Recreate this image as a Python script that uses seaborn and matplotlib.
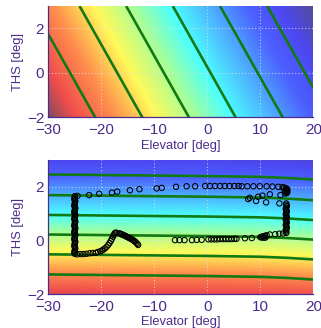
import numpy as np
import matplotlib
matplotlib.use("Agg")
import matplotlib.pyplot as plt
from matplotlib.colors import LinearSegmentedColormap
import seaborn as sns

# axis ranges and ticks
elev_range = [-30, 20]
ths_range = [-2, 3]
x_ticks = [-30, -20, -10, 0, 10, 20]
y_ticks = [-2, 0, 2]

top_ths_coef = 2.37
top_levels = [-25.9, -17.0, -8.2, 0.6, 9.5, 18.4]

# bottom panel: field = THS + small elevator dependent offset
bot_offset_elev = [-30, -20, -10, 0, 10, 15, 20]
bot_offset_val = [-0.06, -0.04, -0.02, 0.0, 0.03, 0.07, 0.13]
bot_levels = [-1.33, -0.58, 0.16, 0.89, 1.63, 2.40]

# measured trajectory (elevator, THS)
left_up_elev = [-25.0, -25.0, -25.1, -25.0, -24.9, -25.0, -25.0, -25.1, -25.0, -24.9,
                -25.0, -25.0, -25.1, -25.0, -24.9, -25.0, -25.0, -25.1, -25.0, -24.9,
                -25.0, -25.0, -25.1, -25.0, -24.9, -25.0, -25.0, -25.1, -25.0, -24.9,
                -25.0, -25.0, -25.1, -25.0, -24.9, -25.0, -25.0, -25.1, -25.0, -24.9,
                -25.0, -25.0, -25.1, -25.0]
left_up_ths = [1.65, 1.60, 1.55, 1.50, 1.45, 1.40, 1.35, 1.30, 1.25, 1.20,
               1.15, 1.10, 1.05, 1.00, 0.95, 0.90, 0.85, 0.80, 0.75, 0.70,
               0.65, 0.60, 0.55, 0.50, 0.45, 0.40, 0.35, 0.30, 0.25, 0.20,
               0.15, 0.10, 0.05, 0.00, -0.05, -0.10, -0.15, -0.20, -0.25, -0.30,
               -0.35, -0.40, -0.45, -0.50]

low_left_elev = [-24.6, -24.0, -23.4, -22.8, -22.2, -21.6, -21.0, -20.6, -20.2, -19.9,
                 -19.6, -19.3, -19.0, -18.7, -18.45, -18.2, -18.0, -17.8, -17.65, -17.5,
                 -17.3, -17.1]
low_left_ths = [-0.52, -0.51, -0.51, -0.50, -0.48, -0.47, -0.46, -0.43, -0.41, -0.38,
                -0.34, -0.30, -0.24, -0.17, -0.10, -0.02, 0.06, 0.14, 0.20, 0.26,
                0.29, 0.28]

blob_elev = [-16.6, -16.4, -16.2, -16.0, -15.8, -15.6, -15.4, -15.2, -15.0, -14.8,
             -14.6, -14.4, -14.2, -14.0, -13.8, -13.6, -13.4, -13.2, -13.05]
blob_ths = [0.26, 0.25, 0.23, 0.21, 0.20, 0.18, 0.16, 0.14, 0.12, 0.10,
            0.08, 0.06, 0.04, 0.01, -0.02, -0.05, -0.09, -0.13, -0.17]

top_row_elev = [-24.5, -22.3, -20.4, -18.0, -17.0, -14.6, -12.8, -9.55, -8.6, -5.9,
                -3.9, -2.3, -0.4, 0.5, 1.45, 2.4, 3.3, 4.2, 5.1, 5.9,
                6.5, 7.55, 8.7, 9.9, 11.2, 12.3, 13.4, 14.2,
                14.5, 14.8, 15.0, 15.1, 15.0, 14.9, 15.1, 15.0, 14.7, 14.9, 14.6]
top_row_ths = [1.66, 1.69, 1.74, 1.78, 1.82, 1.87, 1.91, 1.94, 1.96, 2.00,
               2.02, 2.02, 2.03, 2.03, 2.03, 2.03, 2.03, 2.03, 2.03, 2.03,
               2.02, 2.02, 2.02, 2.02, 2.02, 2.01, 2.00, 1.99,
               1.97, 1.95, 1.92, 1.89, 1.86, 1.83, 1.80, 1.77, 1.75, 1.90, 1.85]

cluster_elev = [7.7, 8.0, 9.2, 9.6, 10.4, 11.1, 11.8, 13.6, 13.8]
cluster_ths = [1.54, 1.59, 1.47, 1.63, 1.67, 1.42, 1.72, 1.38, 1.69]

right_down_elev = [14.9, 14.9, 15.0, 14.9, 14.8, 14.9, 15.0, 14.9, 14.8, 14.9,
                   15.0, 14.9, 14.8, 14.9, 15.0, 14.9, 14.8, 14.9, 15.0, 14.9,
                   14.8, 14.9, 14.9]
right_down_ths = [1.38, 1.33, 1.28, 1.23, 1.18, 1.13, 1.08, 1.03, 0.98, 0.93,
                  0.88, 0.83, 0.78, 0.73, 0.68, 0.63, 0.58, 0.53, 0.48, 0.43,
                  0.38, 0.33, 0.28]

low_right_elev = [14.3, 13.6, 12.8, 11.8, 11.2, 10.9, 10.5, 10.2, 10.0, 10.3,
                  10.7, 11.0, 8.4, 7.1, 5.5, 5.1, 4.6, 4.05, 3.5, 2.95,
                  2.4, 1.85, 1.3, 0.75, 0.2, -1.06, -2.0, -2.9, -4.3, -5.25,
                  -6.09]
low_right_ths = [0.26, 0.25, 0.23, 0.22, 0.19, 0.17, 0.15, 0.13, 0.12, 0.11,
                 0.10, 0.11, 0.09, 0.08, 0.06, 0.06, 0.05, 0.05, 0.05, 0.05,
                 0.05, 0.04, 0.04, 0.04, 0.04, 0.02, 0.02, 0.01, 0.01, 0.01,
                 0.01]

traj_elev = (left_up_elev + low_left_elev + blob_elev + top_row_elev
             + cluster_elev + right_down_elev + low_right_elev)
traj_ths = (left_up_ths + low_left_ths + blob_ths + top_row_ths
            + cluster_ths + right_down_ths + low_right_ths)

# colours
text_color = "#4b2b8b"
contour_color = "#127a12"
cmap = LinearSegmentedColormap.from_list("shaded_rainbow", [
    (0.00, (0.50, 0.30, 0.36)),
    (0.08, (0.94, 0.30, 0.30)),
    (0.20, (1.00, 0.55, 0.30)),
    (0.33, (1.00, 0.98, 0.35)),
    (0.45, (0.65, 1.00, 0.60)),
    (0.56, (0.30, 1.00, 1.00)),
    (0.68, (0.30, 0.70, 1.00)),
    (0.80, (0.30, 0.38, 1.00)),
    (0.90, (0.30, 0.28, 0.95)),
    (1.00, (0.32, 0.30, 0.58)),
])

sns.set_theme(style="white")
plt.rcParams["font.family"] = ["Liberation Sans", "DejaVu Sans"]

fig = plt.figure(figsize=(3.21, 3.28), dpi=100)
W, H = 321, 328
ax1 = fig.add_axes([48.3 / W, 1 - 117.3 / H, 265 / W, 111.3 / H])
ax2 = fig.add_axes([48.3 / W, 1 - 294 / H, 265 / W, 134 / H])

e = np.linspace(elev_range[0], elev_range[1], 400)
t = np.linspace(ths_range[0], ths_range[1], 300)
E, T = np.meshgrid(e, t)

F1 = E + top_ths_coef * T
F2 = T + np.interp(E, bot_offset_elev, bot_offset_val)

extent = [elev_range[0], elev_range[1], ths_range[0], ths_range[1]]
ax1.imshow(F1, origin="lower", extent=extent, aspect="auto", cmap=cmap,
           vmin=F1.min(), vmax=F1.max(), interpolation="bilinear")
ax1.contour(E, T, F1, levels=top_levels, colors=contour_color,
            linewidths=1.9, linestyles="solid")

ax2.imshow(F2, origin="lower", extent=extent, aspect="auto", cmap=cmap,
           vmin=-2.45, vmax=3.55, interpolation="bilinear")
ax2.contour(E, T, F2, levels=bot_levels, colors=contour_color,
            linewidths=1.9, linestyles="solid")
sns.scatterplot(x=traj_elev, y=traj_ths, ax=ax2, marker="o", s=15,
                facecolors="none", edgecolors="black", linewidth=0.75, zorder=3)

for ax in (ax1, ax2):
    ax.set_xlim(elev_range)
    ax.set_ylim(ths_range)
    ax.set_xticks(x_ticks)
    ax.set_yticks(y_ticks)
    ax.set_axisbelow(True)
    ax.grid(True, linestyle=(0, (1, 2)), color="#e0e0e0", linewidth=0.8, alpha=0.8)
    ax.tick_params(axis="both", labelsize=11, colors=text_color, length=0)
    ax.tick_params(axis="x", pad=4)
    ax.tick_params(axis="y", pad=3)
    ax.set_xlabel("Elevator [deg]", fontsize=9.3, color=text_color, labelpad=2)
    ax.set_ylabel("THS [deg]", fontsize=9.3, color=text_color, labelpad=2)
    for side in ("top", "right"):
        ax.spines[side].set_visible(False)
    for side in ("left", "bottom"):
        ax.spines[side].set_color(text_color)
        ax.spines[side].set_linewidth(0.9)

fig.savefig("out.png", dpi=100)
